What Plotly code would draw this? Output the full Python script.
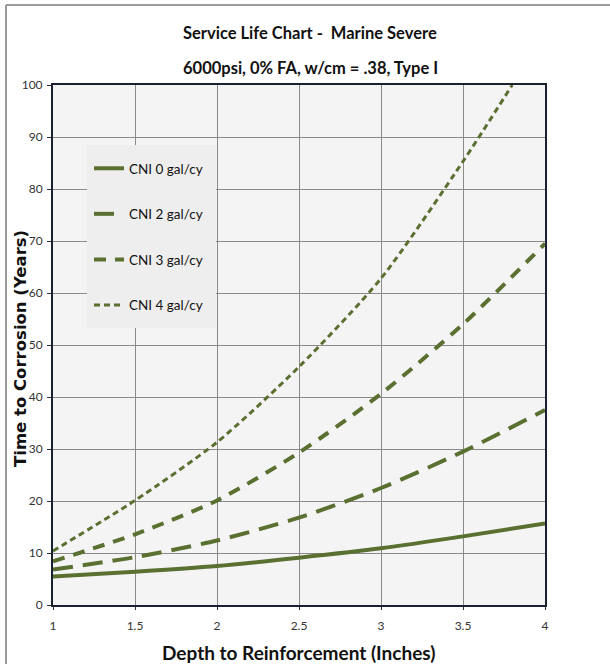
import plotly.graph_objects as go

# ---- data ----
depth = [1, 1.5, 2, 2.5, 3, 3.5, 4]
cni0 = [5.5, 6.4, 7.5, 9.1, 10.9, 13.2, 15.7]
cni2 = [6.8, 9.2, 12.4, 16.8, 22.5, 29.5, 37.5]
cni3 = [8.4, 13.6, 20.1, 29.3, 40.6, 54.0, 69.5]
depth4 = [1, 1.5, 2, 2.5, 3, 3.5, 3.8]
cni4 = [10.4, 20.1, 31.3, 45.8, 62.8, 85.3, 100]

series_names = ["CNI 0 gal/cy", "CNI 2 gal/cy", "CNI 3 gal/cy", "CNI 4 gal/cy"]
x_ticks = [1, 1.5, 2, 2.5, 3, 3.5, 4]
y_ticks = [0, 10, 20, 30, 40, 50, 60, 70, 80, 90, 100]

title1 = "Service Life Chart -  Marine Severe"
title2 = "6000psi, 0% FA, w/cm = .38, Type I"
x_title = "Depth to Reinforcement (Inches)"
y_title = "Time to Corrosion (Years)"

GREEN = "#5a7030"
NARROW = "Lato, Liberation Sans, sans-serif"

W, H = 610, 664
ML, MR, MT, MB = 53, 65, 85, 59
PW = W - ML - MR
PH = H - MT - MB


def px_x(p):
    return (p - ML) / PW


def px_y(p):
    return (H - MB - p) / PH


fig = go.Figure()
styles = [
    dict(width=4, dash="solid"),
    dict(width=4, dash="20px,10px"),
    dict(width=4, dash="12px,9px"),
    dict(width=3, dash="6px,4px"),
]
xs = [depth, depth, depth, depth4]
ys = [cni0, cni2, cni3, cni4]
for i, (name, xv, yv, st) in enumerate(zip(series_names, xs, ys, styles)):
    fig.add_trace(go.Scatter(
        x=xv, y=yv, name=name, mode="lines",
        line=dict(color=GREEN, width=st["width"], dash=st["dash"], shape="spline", smoothing=0.7),
        legendgroup=f"g{i}",
    ))

fig.update_layout(
    width=W, height=H,
    margin=dict(l=ML, r=MR, t=MT, b=MB),
    paper_bgcolor="white",
    plot_bgcolor="#f4f4f4",
    showlegend=True,
    legend=dict(
        x=px_x(89), y=px_y(153), xanchor="left", yanchor="top",
        bgcolor="rgba(0,0,0,0)", borderwidth=0,
        font=dict(family=NARROW, size=13.5, color="#111"),
        traceorder="grouped", tracegroupgap=25,
        itemwidth=30,
    ),
    xaxis=dict(
        range=[1, 4], tickvals=x_ticks, ticktext=[str(t) for t in x_ticks],
        showgrid=True, gridcolor="#8a8a8a", gridwidth=1,
        showline=True, linecolor="#1a2232", linewidth=2, mirror=True,
        ticks="outside", ticklen=3, tickcolor="#333",
        tickfont=dict(family=NARROW, size=12, color="#333"),
        ticklabelstandoff=6,
        zeroline=False, automargin=False,
    ),
    yaxis=dict(
        range=[0, 100], tickvals=y_ticks, ticktext=[str(t) for t in y_ticks],
        showgrid=True, gridcolor="#8a8a8a", gridwidth=1,
        showline=True, linecolor="#1a2232", linewidth=2, mirror=True,
        ticks="outside", ticklen=4, tickcolor="#333",
        tickfont=dict(family=NARROW, size=12, color="#333"),
        ticklabelstandoff=2,
        zeroline=False, automargin=False,
    ),
    annotations=[
        dict(text=f"<b>{title1}</b>", xref="paper", yref="paper", x=px_x(310), y=px_y(33),
             xanchor="center", yanchor="middle", showarrow=False,
             font=dict(family=NARROW, size=16.5, color="#111")),
        dict(text=f"<b>{title2}</b>", xref="paper", yref="paper", x=px_x(310), y=px_y(68),
             xanchor="center", yanchor="middle", showarrow=False,
             font=dict(family=NARROW, size=16.5, color="#111")),
        dict(text=f"<b>{x_title}</b>", xref="paper", yref="paper", x=px_x(299), y=px_y(652),
             xanchor="center", yanchor="middle", showarrow=False,
             font=dict(family=NARROW, size=19, color="#111")),
        dict(text=f"<b>{y_title}</b>", xref="paper", yref="paper", x=px_x(20), y=px_y(349),
             xanchor="center", yanchor="middle", showarrow=False, textangle=-90,
             font=dict(family="DejaVu Sans, sans-serif", size=16.5, color="#111")),
    ],
    shapes=[
        dict(type="rect", xref="paper", yref="paper", x0=px_x(87), x1=px_x(216), y0=px_y(145), y1=px_y(328),
             fillcolor="#eeeeee", line=dict(width=0), layer="above"),
        dict(type="line", xref="paper", yref="paper", x0=px_x(6), x1=px_x(612), y0=px_y(5), y1=px_y(5),
             line=dict(color="#9a9a9a", width=2)),
        dict(type="line", xref="paper", yref="paper", x0=px_x(6), x1=px_x(6), y0=px_y(5), y1=px_y(666),
             line=dict(color="#9a9a9a", width=2)),
    ],
)

fig.write_html(
    "out.html",
    config={"displayModeBar": False},
    post_script="document.body.style.margin='0';document.body.style.overflow='hidden';",
)
